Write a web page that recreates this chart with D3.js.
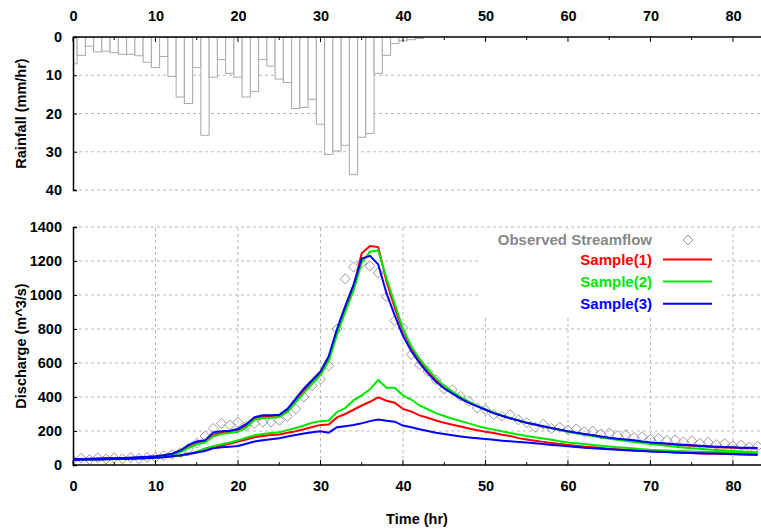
<!DOCTYPE html>
<html>
<head>
<meta charset="utf-8">
<script src="https://cdn.jsdelivr.net/npm/d3@7"></script>
<style>
  body { margin: 0; background: #fff; }
  svg text { font-family: "Liberation Sans", Arial, sans-serif; font-weight: bold; font-size: 14.5px; }
  svg .legend text { font-size: 15px; }
</style>
</head>
<body>
<div id="chart"></div>
<script>
// hourly rainfall (mm/hr), hour 0..42
const rainfall = [7.0,4.8,2.4,3.9,3.7,4.1,4.5,4.5,4.9,6.6,8.0,5.1,10.3,15.7,17.4,8.0,25.7,10.5,5.9,9.5,
  10.5,15.7,14.3,5.9,7.6,11.0,11.9,18.7,18.4,16.3,22.8,30.7,29.8,28.3,36.0,26.2,25.2,9.5,4.8,1.7,
  1.0,0.7,0.4];

// discharge (m^3/s), hour 0..83
const observed = [30,40,32,42,35,42,36,44,38,45,45,55,62,72,94,129,170,215,245,235,
  250,228,245,252,252,262,286,330,400,466,506,584,800,1095,1165,1188,1170,1130,990,850,
  808,650,590,551,502,447,443,404,374,335,325,296,286,296,266,250,222,240,215,222,
  205,212,195,200,182,188,172,178,162,166,150,156,144,148,136,142,128,134,120,126,
  112,117,106,110];

const sample1High = [34,35,36,37,38,39,40,42,44,47,50,56,63,80,108,130,138,178,190,196,
  206,232,275,286,288,290,322,380,440,492,542,628,785,920,1045,1245,1288,1282,1080,925,
  790,690,612,550,500,456,425,395,368,346,326,306,290,275,262,248,237,227,217,207,
  197,189,181,173,165,158,152,147,142,136,131,127,123,119,116,113,110,107,105,103,
  101,99,98,97];
const sample2High = [33,34,35,36,37,38,39,41,43,45,48,53,60,75,100,122,132,168,182,188,
  196,220,265,276,278,282,312,368,425,478,528,610,765,900,1025,1190,1255,1262,1100,950,
  800,700,625,565,510,465,432,400,372,348,328,308,292,276,262,249,238,227,216,206,
  196,187,178,170,162,155,148,141,135,129,123,118,113,108,103,99,95,91,88,85,
  82,79,77,75];
const sample3High = [35,36,37,38,39,40,41,43,45,48,52,58,66,85,118,138,145,192,198,202,
  212,240,282,292,292,295,330,390,450,500,550,640,800,935,1060,1215,1230,1180,1010,880,
  760,670,600,540,490,450,420,390,365,345,325,305,290,275,262,248,238,228,218,208,
  198,190,182,175,167,160,155,150,145,138,133,130,126,122,119,116,113,110,108,106,
  104,102,101,100];

const sample1Low = [30,31,32,33,34,35,36,37,39,41,43,47,51,55,62,74,94,105,115,125,
  138,150,163,170,176,180,190,198,210,224,236,238,280,300,325,350,372,398,378,366,
  330,315,292,278,262,248,237,226,215,205,196,188,178,170,158,150,143,136,130,124,
  118,113,108,104,100,96,93,90,87,84,81,78,76,74,72,70,68,67,66,64,
  63,62,61,60];
const sample2Low = [30,31,32,33,34,35,36,37,39,41,44,48,52,56,64,78,98,110,122,132,
  145,160,175,182,188,193,205,218,232,248,258,262,312,335,380,410,445,500,455,455,
  410,385,350,328,305,288,272,258,245,230,218,208,198,188,180,170,163,156,148,140,
  133,128,123,118,113,109,105,101,97,93,89,87,85,83,81,79,78,77,76,75,
  74,73,72,71];
const sample3Low = [30,31,32,33,34,35,36,37,38,40,42,46,52,58,66,73,82,98,105,108,
  112,125,138,145,152,158,168,176,185,192,198,190,222,228,235,245,258,268,260,255,
  232,222,210,200,190,182,175,168,162,157,153,148,143,139,136,133,128,123,118,114,
  110,106,102,99,96,93,90,87,84,82,80,78,76,74,72,70,69,68,67,66,
  65,63,62,61];

const timeTicks = [0,10,20,30,40,50,60,70,80];
const rainTicks = [0,10,20,30,40];
const flowTicks = [0,200,400,600,800,1000,1200,1400];

const series = [
  {name: "Sample(1)", color: "#ff0000", values: [sample1High, sample1Low]},
  {name: "Sample(2)", color: "#00e800", values: [sample2High, sample2Low]},
  {name: "Sample(3)", color: "#0000ff", values: [sample3High, sample3Low]}
];

const width = 761, height = 529;
const left = 73, right = 761;

const svg = d3.select("#chart").append("svg")
  .attr("width", width)
  .attr("height", height);

const x = d3.scaleLinear().domain([0, 83.4]).range([left, right]);
const yRain = d3.scaleLinear().domain([0, 40]).range([37, 190]);
const yFlow = d3.scaleLinear().domain([0, 1400]).range([465, 227]);

const minorTime = d3.range(0, 84, 5);

// clip paths
svg.append("clipPath").attr("id", "clipTop")
  .append("rect").attr("x", left).attr("y", yRain(0)).attr("width", right - left).attr("height", yRain(40) - yRain(0) + 1);
svg.append("clipPath").attr("id", "clipBot")
  .append("rect").attr("x", left).attr("y", yFlow(1400) - 5).attr("width", right - left).attr("height", yFlow(0) - yFlow(1400) + 5);

// ---------- rainfall panel ----------
const rainPanel = svg.append("g");

rainPanel.selectAll(".rgrid").data(rainTicks.slice(1))
  .enter().append("line")
  .attr("x1", left).attr("x2", right)
  .attr("y1", d => yRain(d)).attr("y2", d => yRain(d))
  .attr("stroke", "#b8b8b8").attr("stroke-dasharray", "3,3");

rainPanel.append("g").attr("clip-path", "url(#clipTop)")
  .selectAll("rect").data(rainfall)
  .enter().append("rect")
  .attr("x", (d, i) => x(i - 0.5))
  .attr("y", yRain(0))
  .attr("width", x(1) - x(0))
  .attr("height", d => yRain(d) - yRain(0))
  .attr("fill", "#fff")
  .attr("stroke", "#a8a8a8")
  .attr("stroke-width", 1);

// top x axis
const topAxis = d3.axisTop(x).tickValues(timeTicks).tickSize(0).tickPadding(0);
rainPanel.append("g")
  .attr("transform", "translate(0,21)")
  .call(topAxis)
  .call(g => g.select(".domain").remove())
  .selectAll("text").attr("fill", "#000").attr("dy", 0);

rainPanel.selectAll(".rtick").data(minorTime)
  .enter().append("line")
  .attr("x1", d => x(d)).attr("x2", d => x(d))
  .attr("y1", yRain(0)).attr("y2", d => yRain(0) + (d % 10 === 0 ? 5 : 3))
  .attr("stroke", "#000");

rainPanel.append("line")
  .attr("x1", left).attr("x2", right)
  .attr("y1", yRain(0)).attr("y2", yRain(0))
  .attr("stroke", "#000").attr("stroke-width", 1.5);

const rainAxis = d3.axisLeft(yRain).tickValues(rainTicks).tickSize(-4).tickPadding(11)
  .tickFormat(d3.format("d"));
rainPanel.append("g")
  .attr("transform", `translate(${left},0)`)
  .call(rainAxis)
  .call(g => g.select(".domain").attr("stroke-width", 1.5))
  .call(g => g.selectAll("text").attr("fill", "#000"));

rainPanel.append("text")
  .attr("transform", `translate(26,${(yRain(0) + yRain(40)) / 2}) rotate(-90)`)
  .attr("text-anchor", "middle")
  .text("Rainfall (mm/hr)");

// ---------- discharge panel ----------
const flowPanel = svg.append("g");

flowPanel.selectAll(".vgrid").data(timeTicks.slice(1))
  .enter().append("line")
  .attr("x1", d => x(d)).attr("x2", d => x(d))
  .attr("y1", yFlow(0)).attr("y2", yFlow(1400))
  .attr("stroke", "#b8b8b8").attr("stroke-dasharray", "3,3");

flowPanel.selectAll(".hgrid").data(flowTicks.slice(1))
  .enter().append("line")
  .attr("x1", left).attr("x2", right)
  .attr("y1", d => yFlow(d)).attr("y2", d => yFlow(d))
  .attr("stroke", "#b8b8b8").attr("stroke-dasharray", "3,3");

// legend background hides the grid behind it
flowPanel.append("rect")
  .attr("x", 481).attr("y", 229)
  .attr("width", 241).attr("height", 89)
  .attr("fill", "#fff");

const plot = flowPanel.append("g").attr("clip-path", "url(#clipBot)");

const diamond = d3.symbol().type(d3.symbolDiamond2).size(64);

plot.selectAll(".obs").data(observed)
  .enter().append("path")
  .attr("d", diamond)
  .attr("transform", (d, i) => `translate(${x(i)},${yFlow(d)})`)
  .attr("fill", "none")
  .attr("stroke", "#999")
  .attr("stroke-width", 1);

const line = d3.line()
  .x((d, i) => x(i))
  .y(d => yFlow(d));

series.forEach(s => {
  s.values.forEach(v => {
    plot.append("path")
      .datum(v)
      .attr("d", line)
      .attr("fill", "none")
      .attr("stroke", s.color)
      .attr("stroke-width", 2);
  });
});

// bottom x axis
const botAxis = d3.axisBottom(x).tickValues(timeTicks).tickSize(0).tickPadding(16);
flowPanel.append("g")
  .attr("transform", `translate(0,${yFlow(0)})`)
  .call(botAxis)
  .call(g => g.select(".domain").remove())
  .selectAll("text").attr("fill", "#000");

flowPanel.selectAll(".btick").data(minorTime)
  .enter().append("line")
  .attr("x1", d => x(d)).attr("x2", d => x(d))
  .attr("y1", yFlow(0)).attr("y2", d => yFlow(0) - (d % 10 === 0 ? 5 : 3))
  .attr("stroke", "#000");

flowPanel.append("line")
  .attr("x1", left).attr("x2", right)
  .attr("y1", yFlow(0)).attr("y2", yFlow(0))
  .attr("stroke", "#000").attr("stroke-width", 1.5);

const flowAxis = d3.axisLeft(yFlow).tickValues(flowTicks).tickSize(-4).tickPadding(11)
  .tickFormat(d3.format("d"));
flowPanel.append("g")
  .attr("transform", `translate(${left},0)`)
  .call(flowAxis)
  .call(g => g.select(".domain").attr("stroke-width", 1.5))
  .call(g => g.selectAll("text").attr("fill", "#000"));

flowPanel.append("text")
  .attr("transform", `translate(26,${(yFlow(0) + yFlow(1400)) / 2}) rotate(-90)`)
  .attr("text-anchor", "middle")
  .text("Discharge (m^3/s)");

svg.append("text")
  .attr("x", 417).attr("y", 524)
  .attr("text-anchor", "middle")
  .text("Time (hr)");

// ---------- legend ----------
const legend = flowPanel.append("g").attr("class", "legend");
legend.append("text")
  .attr("x", 652).attr("y", 245)
  .attr("text-anchor", "end")
  .attr("fill", "#888")
  .text("Observed Streamflow");
legend.append("path")
  .attr("d", diamond)
  .attr("transform", "translate(688,240)")
  .attr("fill", "none")
  .attr("stroke", "#999");

series.forEach((s, i) => {
  const yy = 259.5 + i * 22.1;
  legend.append("text")
    .attr("x", 652).attr("y", yy + 5)
    .attr("text-anchor", "end")
    .attr("fill", s.color)
    .text(s.name);
  legend.append("line")
    .attr("x1", 663).attr("x2", 712)
    .attr("y1", yy).attr("y2", yy)
    .attr("stroke", s.color)
    .attr("stroke-width", 2);
});
</script>
</body>
</html>
